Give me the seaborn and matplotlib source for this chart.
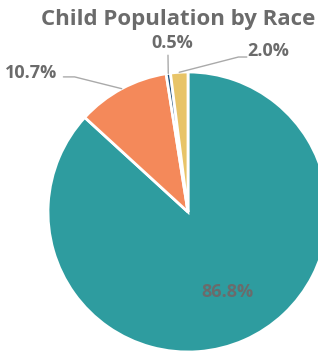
import numpy as np
import pandas as pd
import seaborn as sns
import matplotlib.pyplot as plt

sns.set_theme(style="white")
plt.rcParams['font.family'] = ['Open Sans', 'DejaVu Sans']

# data
races = ["Group A", "Group B", "Group C", "Group D"]
shares = [86.8, 10.7, 0.5, 2.0]
colors = ["#2e9c9f", "#f4895a", "#1f4e79", "#e8c468"]
# where each label goes (data coords, pie radius = 1) and elbow of leader line
label_xy = [(0.28, -0.57), (-1.12, 0.99), (-0.11, 1.21), (0.57, 1.15)]
elbow_xy = [None, (-0.81, 0.965), (-0.143, 1.12), (0.36, 1.107)]

df = pd.DataFrame({"race": races, "share": shares})

fig = plt.figure(figsize=(3.18, 3.54), dpi=100)
ax = fig.add_axes([48 / 318, 2 / 354, 280 / 318, 280 / 354])

wedges, _ = ax.pie(df["share"], colors=colors, startangle=90, counterclock=False,
                   wedgeprops=dict(edgecolor="white", linewidth=2))
ax.set_xlim(-1, 1)
ax.set_ylim(-1, 1)
ax.set_aspect("equal")
ax.axis("off")

txt_col = "#6b6b6b"
for i, w in enumerate(wedges):
    lab = f"{df['share'][i]:.1f}%"
    tx, ty = label_xy[i]
    ax.text(tx, ty, lab, ha="center", va="center", fontsize=13,
            fontweight="bold", color=txt_col, clip_on=False)
    if elbow_xy[i] is not None:
        # leader line from label to middle of the slice edge
        ang = np.deg2rad((w.theta1 + w.theta2) / 2)
        px, py = np.cos(ang), np.sin(ang)
        ex, ey = elbow_xy[i]
        if i == 1:
            xs, ys = [tx + 0.23, ex, px], [ey, ey, py]
        elif i == 3:
            xs, ys = [tx - 0.15, ex, px], [ey, ey, py]
        else:
            xs, ys = [ex, px], [ey, py]
        ax.plot(xs, ys, color="#aaaaaa", lw=1, clip_on=False)

fig.text(178 / 318, 1 - 20 / 354, "Child Population by Race", ha="center", va="center",
         fontsize=16, fontweight="bold", color=txt_col)

fig.savefig("out.png", dpi=100)
